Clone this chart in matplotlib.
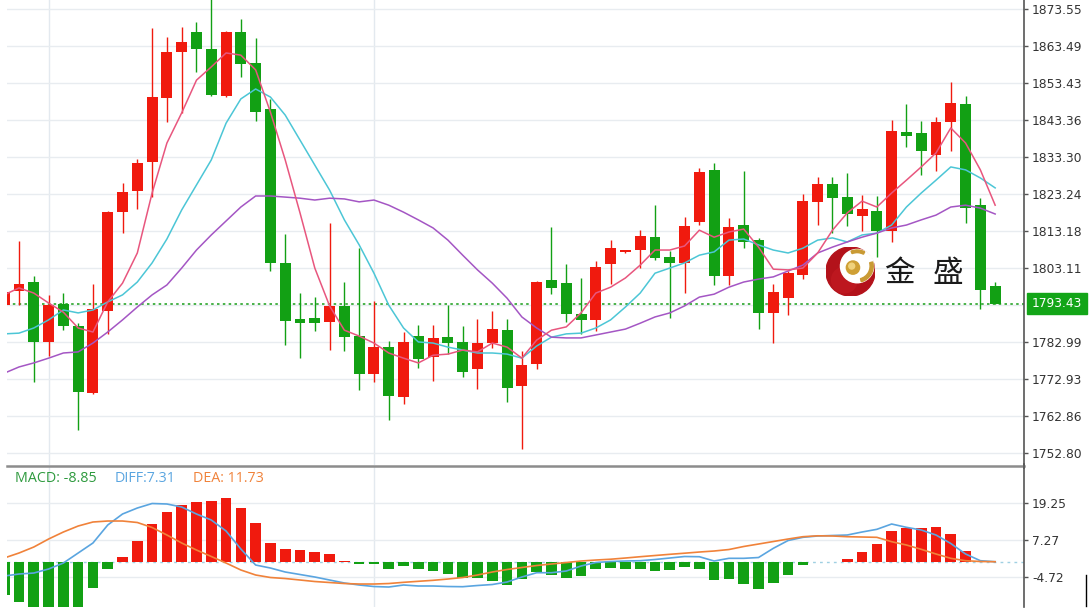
import matplotlib
matplotlib.use("Agg")
import matplotlib.pyplot as plt
import matplotlib.transforms as mtransforms
from matplotlib.patches import Circle, Wedge, Rectangle
from matplotlib.lines import Line2D
import numpy as np

# ---------------- data ----------------
idx = list(range(-1, 67))
opens = [1793.0, 1796.8, 1799.4, 1783.1, 1793.3, 1787.4, 1769.0, 1791.4, 1818.3, 1824.0,
         1831.9, 1849.3, 1861.8, 1867.4, 1862.6, 1849.9, 1867.2, 1858.9, 1846.3, 1804.5,
         1789.2, 1789.4, 1788.5, 1792.8, 1784.7, 1774.3, 1781.5, 1768.1, 1784.7, 1778.8,
         1784.3, 1783.1, 1775.6, 1782.6, 1786.2, 1771.0, 1777.0, 1799.8, 1799.1, 1790.6,
         1789.0, 1804.2, 1807.4, 1808.0, 1811.5, 1806.0, 1804.4, 1815.7, 1829.8, 1800.9,
         1814.8, 1810.7, 1790.8, 1794.9, 1801.2, 1821.0, 1825.9, 1822.5, 1817.3, 1818.7,
         1813.2, 1840.2, 1839.9, 1833.8, 1842.9, 1847.6, 1820.2, 1798.2]
highs = [1797.5, 1810.4, 1801.0, 1795.8, 1796.2, 1788.1, 1798.8, 1818.5, 1826.3, 1832.7,
         1868.3, 1865.9, 1868.6, 1870.1, 1878.0, 1867.6, 1870.8, 1865.6, 1849.0, 1812.3,
         1796.4, 1795.1, 1815.4, 1799.4, 1808.6, 1794.2, 1783.2, 1785.8, 1787.6, 1787.6,
         1793.0, 1787.4, 1789.2, 1791.4, 1789.2, 1780.6, 1799.6, 1814.2, 1804.1, 1800.5,
         1805.1, 1810.7, 1807.9, 1813.4, 1820.2, 1807.7, 1817.1, 1830.2, 1831.7, 1816.6,
         1829.6, 1811.3, 1798.7, 1802.3, 1823.2, 1827.9, 1827.9, 1829.0, 1823.0, 1822.7,
         1843.4, 1847.7, 1843.1, 1844.3, 1853.8, 1849.9, 1822.2, 1799.4]
lows = [1792.5, 1793.0, 1772.0, 1779.2, 1786.2, 1759.0, 1768.8, 1785.3, 1812.5, 1819.2,
        1822.5, 1842.9, 1845.3, 1856.5, 1849.9, 1849.7, 1855.1, 1843.1, 1802.4, 1782.2,
        1778.7, 1786.0, 1780.8, 1780.6, 1769.9, 1772.2, 1761.9, 1766.1, 1776.0, 1772.4,
        1779.7, 1773.5, 1770.2, 1781.4, 1766.6, 1753.8, 1775.6, 1796.0, 1788.3, 1785.2,
        1786.0, 1798.9, 1807.2, 1803.0, 1805.3, 1789.6, 1796.2, 1814.8, 1798.5, 1798.5,
        1808.5, 1786.5, 1782.8, 1790.3, 1800.0, 1814.8, 1812.5, 1814.6, 1813.2, 1806.0,
        1810.3, 1835.9, 1828.4, 1829.6, 1835.0, 1815.3, 1792.1, 1793.43]
closes = [1796.7, 1798.8, 1783.1, 1793.0, 1787.4, 1769.5, 1791.9, 1818.3, 1823.9, 1831.7,
          1849.5, 1861.9, 1864.7, 1862.6, 1850.2, 1867.2, 1858.6, 1845.5, 1804.4, 1788.8,
          1788.2, 1788.2, 1792.8, 1784.3, 1774.2, 1781.5, 1768.4, 1783.1, 1778.3, 1784.0,
          1782.6, 1774.9, 1782.6, 1786.5, 1770.5, 1776.7, 1799.2, 1797.7, 1790.6, 1789.0,
          1803.5, 1808.6, 1807.8, 1811.9, 1805.7, 1804.4, 1814.5, 1829.1, 1801.0, 1814.3,
          1810.3, 1790.8, 1796.5, 1801.7, 1821.4, 1826.0, 1822.2, 1817.7, 1819.2, 1813.2,
          1840.4, 1839.0, 1835.0, 1842.9, 1847.9, 1819.3, 1797.1, 1793.43]

ma_fast = [1795.8, 1797.7, 1796.3, 1793.6, 1791.1, 1786.8, 1785.7, 1793.9, 1799.0, 1807.2,
           1823.5, 1837.1, 1845.3, 1854.2, 1857.8, 1861.6, 1861.0, 1857.0, 1845.5, 1832.5,
           1818.1, 1803.1, 1792.8, 1786.2, 1784.6, 1782.7, 1780.0, 1778.6, 1777.3, 1779.4,
           1779.7, 1780.8, 1780.3, 1782.7, 1781.6, 1778.6, 1783.5, 1786.2, 1787.1, 1790.9,
           1796.3, 1797.9, 1800.4, 1803.9, 1808.0, 1808.0, 1809.1, 1813.4, 1811.5, 1812.9,
           1813.7, 1808.8, 1802.8, 1802.6, 1803.1, 1807.2, 1813.4, 1818.1, 1821.3, 1819.7,
           1823.5, 1827.0, 1830.6, 1834.4, 1841.2, 1837.1, 1829.8, 1820.2]
ma_mid = [1785.2, 1785.4, 1786.8, 1789.0, 1791.7, 1790.9, 1791.7, 1793.9, 1795.8, 1799.3,
          1804.5, 1811.0, 1818.9, 1825.7, 1832.5, 1842.5, 1849.1, 1851.8, 1849.6, 1844.7,
          1837.9, 1831.1, 1824.3, 1816.2, 1809.4, 1801.7, 1793.0, 1786.8, 1783.0, 1782.7,
          1781.6, 1780.8, 1780.0, 1780.0, 1779.7, 1778.6, 1781.9, 1784.3, 1785.2, 1785.4,
          1786.8, 1789.0, 1792.5, 1796.3, 1801.7, 1803.1, 1804.5, 1806.6, 1807.5, 1810.7,
          1811.0, 1809.4, 1808.0, 1807.2, 1808.5, 1810.7, 1811.3, 1810.2, 1812.1, 1812.6,
          1814.8, 1819.7, 1823.5, 1827.0, 1830.6, 1829.8, 1827.6, 1824.9]
ma_slow = [1774.5, 1776.2, 1777.3, 1778.6, 1780.0, 1780.3, 1782.7, 1785.7, 1789.0, 1792.5,
           1795.8, 1798.5, 1803.1, 1808.0, 1812.1, 1815.9, 1819.7, 1822.7, 1822.7, 1822.4,
           1822.1, 1821.6, 1822.1, 1821.9, 1821.1, 1821.6, 1820.2, 1818.3, 1816.2, 1814.0,
           1810.7, 1806.6, 1802.6, 1799.0, 1794.9, 1789.8, 1786.8, 1784.3, 1784.1, 1784.1,
           1784.9, 1785.7, 1786.5, 1788.1, 1789.8, 1790.9, 1792.8, 1795.2, 1796.0, 1797.9,
           1799.3, 1800.1, 1800.7, 1802.3, 1803.9, 1807.2, 1808.8, 1810.2, 1811.5, 1812.6,
           1814.0, 1814.8, 1816.2, 1817.5, 1819.7, 1820.2, 1819.4, 1817.8]

macd_hist = [-10.5, -12.7, -16.0, -16.0, -16.0, -16.0, -8.4, -2.2, 1.67, 6.95,
             12.45, 16.4, 18.6, 19.7, 20.0, 21.0, 17.7, 12.7, 6.3, 4.26,
             4.03, 3.5, 2.74, 0.6, -0.6, -0.65, -2.1, -1.15, -2.1, -2.65,
             -3.8, -5.1, -5.1, -5.9, -7.3, -5.5, -3.2, -4.2, -5.1, -4.3,
             -2.2, -1.9, -2.1, -2.1, -2.9, -2.45, -1.57, -2.1, -5.7, -5.4,
             -7.1, -8.7, -6.6, -4.06, -0.7, 0.0, 0.0, 1.1, 3.3, 5.9,
             10.3, 11.05, 11.25, 11.5, 9.2, 3.8, 0.0, 0.0]
diff = [-4.39, -3.74, -3.42, -2.12, -0.18, 3.06, 6.30, 12.13, 15.69, 17.63,
        19.09, 18.93, 17.96, 15.69, 13.75, 10.18, 4.36, -0.83, -1.80, -3.09,
        -3.90, -4.71, -5.68, -6.65, -7.30, -7.79, -7.95, -7.30, -7.62, -7.62,
        -7.79, -7.85, -7.46, -7.14, -6.33, -4.71, -3.32, -3.32, -2.77, -1.15,
        -0.02, 0.31, 0.47, 0.57, 0.96, 1.44, 1.93, 1.86, 0.47, 1.34,
        1.34, 1.60, 4.58, 7.11, 8.14, 8.57, 8.73, 8.89, 9.86, 10.73,
        12.45, 11.38, 10.51, 8.89, 6.14, 2.74, 0.57, 0.24]
dea = [1.44, 3.06, 5.00, 7.59, 9.86, 11.80, 13.10, 13.42, 13.42, 12.94,
       11.32, 8.89, 6.30, 4.03, 1.93, -0.18, -2.44, -4.06, -4.87, -5.20,
       -5.68, -6.17, -6.49, -6.82, -6.98, -6.98, -6.82, -6.43, -6.10, -5.78,
       -5.36, -4.87, -4.06, -3.09, -2.28, -1.63, -0.99, -0.50, -0.02, 0.47,
       0.79, 1.05, 1.44, 1.86, 2.25, 2.64, 3.00, 3.38, 3.71, 4.19,
       5.17, 5.97, 6.78, 7.59, 8.34, 8.63, 8.57, 8.34, 8.24, 8.14,
       6.72, 5.65, 4.26, 2.74, 1.34, 0.57, 0.31, 0.24]

price_ticks = [1873.55, 1863.49, 1853.43, 1843.36, 1833.30, 1823.24, 1813.18,
               1803.11, 1782.99, 1772.93, 1762.86, 1752.80]
price_grid_extra = [1793.05]
last_price = 1793.43
macd_ticks = [19.25, 7.27, -4.72]
day_breaks = [2, 24]
legend_items = [("MACD: -8.85", "#2e9a3e"), ("DIFF:7.31", "#5aa5e0"), ("DEA: 11.73", "#f0823a")]
logo_chars = ["金", "盛"]

# ---------------- style ----------------
RED = "#f01a0e"
GREEN = "#12a014"
GRID = "#e8ecf0"
AXC = "#555555"
TXT = "#333333"

W, H = 1089, 610
fig = plt.figure(figsize=(W / 100, H / 100), dpi=100)
fig.patch.set_facecolor("white")


def ax_px(l, t, r, b, **kw):
    return fig.add_axes([l / W, 1 - b / H, (r - l) / W, (b - t) / H], **kw)


ax = ax_px(7, 0, 1024, 465)
ax2 = ax_px(7, 467, 1024, 607)

x = np.array(idx, dtype=float)
xlim = (-0.811, 67.95)

for a in (ax, ax2):
    a.set_xlim(*xlim)
    a.set_facecolor("none")
    for s in ("top", "left", "bottom"):
        a.spines[s].set_visible(False)
    a.spines["right"].set_color(AXC)
    a.spines["right"].set_linewidth(1.2)
    a.yaxis.tick_right()
    a.tick_params(axis="y", length=3.2, width=1, color=AXC, labelcolor=TXT,
                  labelsize=8.8, pad=2.5)
    a.tick_params(axis="x", bottom=False, labelbottom=False)
    for d in day_breaks:
        a.axvline(d, color="#e3e9ef", lw=1, zorder=0)

# ---- price panel ----
ax.set_ylim(1749.54, 1876.0)
ax.set_yticks(price_ticks)
ax.set_yticklabels([f"{t:.2f}" for t in price_ticks])
for t in price_ticks + price_grid_extra:
    ax.axhline(t, color=GRID, lw=1, zorder=0)

o = np.array(opens); c = np.array(closes); hi = np.array(highs); lo = np.array(lows)
up = c >= o
cols = np.where(up, RED, GREEN)
ax.vlines(x, lo, hi, colors=cols, lw=1.0, zorder=2)
body_lo = np.minimum(o, c)
body_h = np.maximum(np.abs(c - o), 0.5)
ax.bar(x, body_h, bottom=body_lo, width=0.74, color=cols, linewidth=0, zorder=3)

ax.plot(x, ma_mid, color="#4cc6d6", lw=1.1, zorder=4)
ax.plot(x, ma_slow, color="#a456c4", lw=1.1, zorder=4)
ax.plot(x, ma_fast, color="#e8567e", lw=1.1, zorder=5)

ax.axhline(last_price, color="#2aa52a", lw=1.2, ls=(0, (1.5, 2.0)), zorder=1)

# last price box on the axis
blend = mtransforms.blended_transform_factory(ax.transAxes, ax.transData)
ppx = (1876.0 - 1749.54) / 465.0
box_w = 60 / 1017
ax.add_patch(Rectangle((1.0 + 3 / 1017, last_price - 10.5 * ppx), box_w, 21 * ppx,
                       transform=blend, color="#13a518", clip_on=False, zorder=6))
ax.text(1.0 + 3 / 1017 + box_w / 2, last_price, f"{last_price:.2f}", transform=blend,
        ha="center", va="center", color="white", fontsize=8.8, clip_on=False, zorder=7)

# ---- MACD panel ----
ax2.set_ylim(-14.42, 30.91)
ax2.set_yticks(macd_ticks)
ax2.set_yticklabels([f"{t:.2f}" for t in macd_ticks])
for t in macd_ticks:
    ax2.axhline(t, color=GRID, lw=1, zorder=0)
ax2.axhline(0, color="#9fd0e2", lw=1, ls=(0, (2, 3)), zorder=1)
h = np.array(macd_hist)
ax2.bar(x, h, width=0.72, color=np.where(h >= 0, RED, GREEN), linewidth=0, zorder=2)
ax2.plot(x, diff, color="#5aa5e0", lw=1.2, zorder=3)
ax2.plot(x, dea, color="#f0823a", lw=1.2, zorder=3)

# separator between panels
fig.add_artist(Line2D([7 / W, 1024 / W], [1 - 466 / H, 1 - 466 / H], color="#8c8c8c", lw=1.8))
# right axis continuation across the gap
fig.add_artist(Line2D([1024 / W, 1024 / W], [1 - 468 / H, 1 - 464 / H], color=AXC, lw=1.2))
# small cursor mark at bottom right
fig.add_artist(Line2D([1085.5 / W, 1085.5 / W], [1 - 606 / H, 1 - 575 / H], color="black", lw=1))

# legend texts in MACD panel
xpos = [15, 115, 193]
for (txt, col), xp in zip(legend_items, xpos):
    fig.text(xp / W, 1 - 479 / H, txt, color=col, fontsize=10.3, family="Open Sans",
             ha="left", va="center")

# ---- logo ----
lax = ax_px(826, 247, 875, 296)
lax.set_xlim(-1, 1); lax.set_ylim(-1, 1); lax.set_aspect("equal"); lax.axis("off")
lax.add_patch(Circle((0, 0), 1.0, color="#b3121a"))
lax.add_patch(Circle((-0.25, -0.35), 0.55, color="#d2232a", alpha=0.35, lw=0))
lax.add_patch(Circle((0.27, 0.22), 0.68, color="white"))
lax.add_patch(Wedge((0.27, 0.22), 0.66, -75, 15, width=0.13, color="#c99a34"))
lax.add_patch(Wedge((0.27, 0.22), 0.66, 62, 112, width=0.11, color="#c99a34"))
lax.add_patch(Circle((0.10, 0.16), 0.27, color="#cfa035"))
lax.add_patch(Circle((0.05, 0.22), 0.12, color="#f0d27c"))

for ch, xc in zip(logo_chars, [899, 948]):
    fig.text(xc / W, 1 - 273 / H, ch, fontsize=22, color="#1a1a1a",
             family=["Noto Sans CJK SC", "DejaVu Sans"], ha="center", va="center")

fig.savefig("out.png", dpi=100, facecolor="white")
